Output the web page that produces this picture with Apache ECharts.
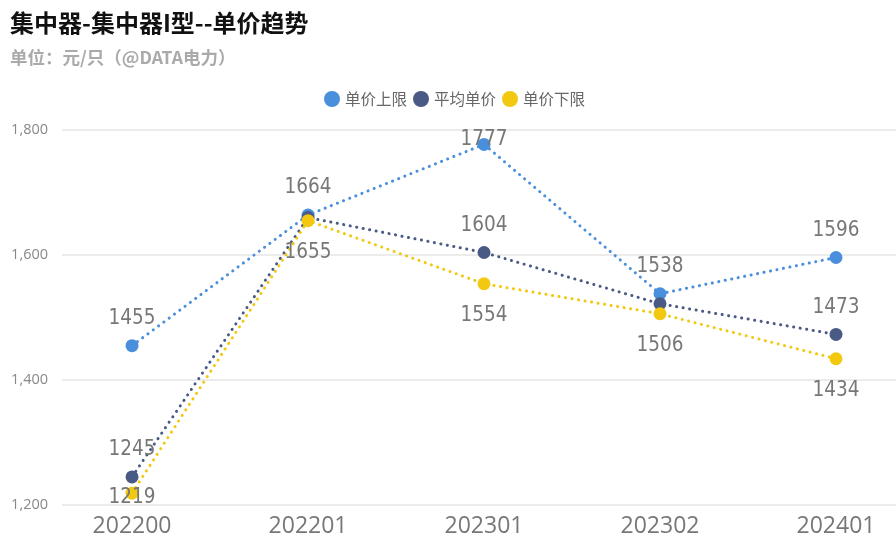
<!DOCTYPE html>
<html>
<head>
<meta charset="utf-8">
<script src="https://cdn.jsdelivr.net/npm/echarts@6/dist/echarts.min.js"></script>
<style>
  html, body { margin: 0; padding: 0; background: #fff; }
  #main { width: 896px; height: 548px; }
</style>
</head>
<body>
<div id="main"></div>
<script>
const periods = ['202200', '202201', '202301', '202302', '202401'];
const upperPrice = [1455, 1664, 1777, 1538, 1596];
const avgPrice = [1245, 1660, 1604, 1522, 1473];
const lowerPrice = [1219, 1655, 1554, 1506, 1434];

const chart = echarts.init(document.getElementById('main'));
const numFont = 'DejaVu Sans Condensed';
const plotTop = 130;
const plotBottom = 505;
const idx = periods.map((p, i) => i);

// keep data labels inside the plot area
function clampLabel(params) {
  const r = params.labelRect;
  let y = r.y;
  if (r.y < plotTop - 1) y = plotTop - 1;
  if (r.y + r.height > plotBottom + 3) y = plotBottom + 3 - r.height;
  return {
    x: r.x + r.width / 2,
    y: y + r.height / 2,
    align: 'center',
    verticalAlign: 'middle',
    hideOverlap: true
  };
}

function lineSeries(name, values, color, labelPos) {
  return {
    name: name,
    type: 'line',
    data: values.map((v, i) => [i, v]),
    symbol: 'circle',
    symbolSize: 13,
    itemStyle: { color: color },
    lineStyle: { color: color, type: [0.1, 6.5], cap: 'round', width: 3 },
    label: {
      show: true,
      position: labelPos,
      distance: labelPos === 'top' ? 10 : 15,
      color: '#777',
      fontSize: 20.5,
      fontFamily: numFont,
      formatter: p => p.value[1]
    },
    labelLayout: clampLabel,
    z: 3
  };
}

const option = {
  backgroundColor: '#fff',
  title: {
    text: '集中器-集中器I型--单价趋势',
    subtext: '单位：元/只（@DATA电力）',
    left: 5,
    top: 6,
    itemGap: 14,
    textStyle: { fontSize: 24, fontWeight: 'bold', color: '#111', fontFamily: 'Noto Sans CJK SC' },
    subtextStyle: { fontSize: 17.5, fontWeight: 'bold', color: '#aaa', fontFamily: 'Noto Sans CJK SC' }
  },
  legend: {
    top: 86,
    left: 319,
    icon: 'circle',
    itemWidth: 16,
    itemHeight: 16,
    itemGap: 6,
    textStyle: { fontSize: 15.5, color: '#666', fontFamily: 'Noto Sans CJK SC' },
    data: ['单价上限', '平均单价', '单价下限']
  },
  grid: { left: 62, right: 0, top: plotTop, bottom: 548 - plotBottom },
  xAxis: {
    type: 'value',
    min: -0.398,
    max: 4.341,
    axisLine: { show: false },
    axisTick: { show: false },
    splitLine: { show: false },
    axisLabel: {
      customValues: idx,
      color: '#777',
      fontSize: 23,
      margin: 10,
      fontFamily: 'Open Sans',
      formatter: v => periods[Math.round(v)]
    }
  },
  yAxis: {
    type: 'value',
    min: 1200,
    max: 1800,
    interval: 200,
    axisLine: { show: false },
    axisTick: { show: false },
    axisLabel: { color: '#888', fontSize: 14.5, margin: 14, fontFamily: 'Open Sans' },
    splitLine: { lineStyle: { color: '#e6e6e6', width: 1.5 } }
  },
  series: [
    lineSeries('单价上限', upperPrice, '#4a8fdc', 'top'),
    lineSeries('平均单价', avgPrice, '#495a85', 'top'),
    lineSeries('单价下限', lowerPrice, '#f2c811', 'bottom')
  ]
};
chart.setOption(option);
</script>
</body>
</html>
